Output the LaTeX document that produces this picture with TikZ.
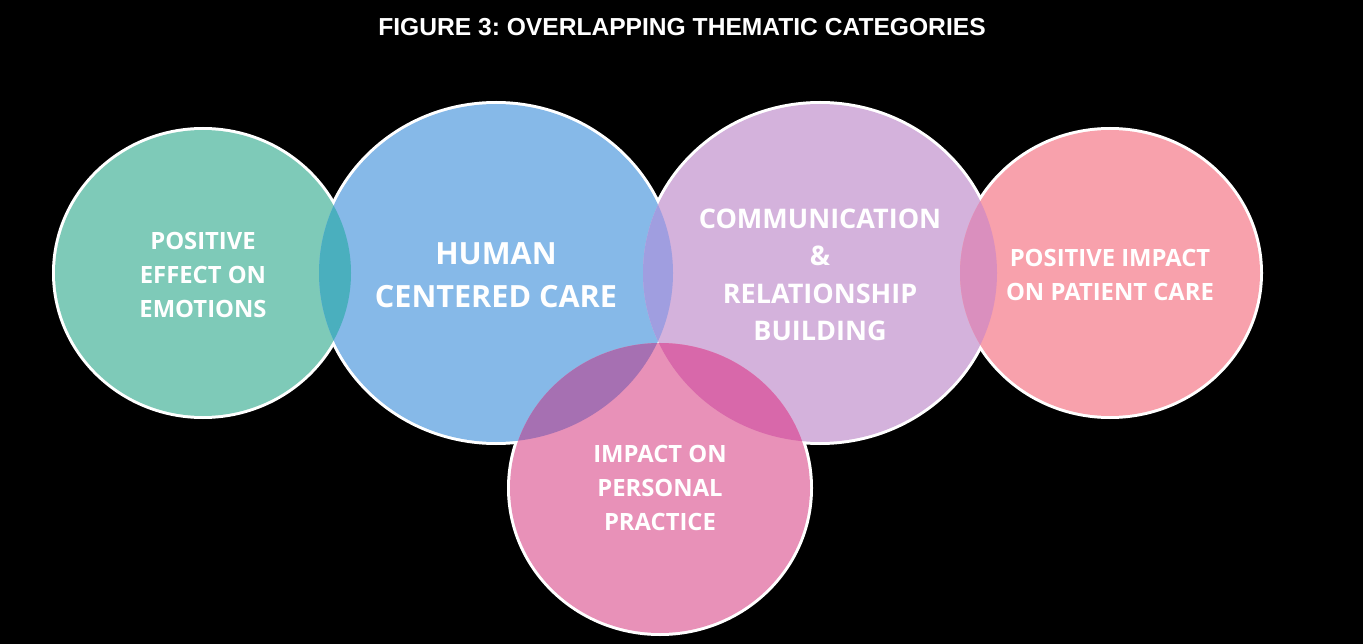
\documentclass[tikz,border=0pt]{standalone}
\usepackage{fontspec}
\setmainfont{Open Sans}
\newfontfamily\titlefont{Liberation Sans}
\frenchspacing
\definecolor{cteal}{HTML}{7ECAB8}
\definecolor{cblue}{HTML}{86B9E8}
\definecolor{clilac}{HTML}{D4B2DC}
\definecolor{cpink}{HTML}{F8A1AC}
\definecolor{cmag}{HTML}{E891B8}
\definecolor{ctb}{HTML}{4AAFBE}
\definecolor{cbl}{HTML}{A09EE0}
\definecolor{clp}{HTML}{DA8FBE}
\definecolor{cbm}{HTML}{A670B2}
\definecolor{clm}{HTML}{D868AA}
\definecolor{cblm}{HTML}{9E7EC8}
\newcommand\pteal{(203,273) ellipse [x radius=148pt, y radius=143pt]}
\newcommand\pblue{(496,273) ellipse [x radius=177pt, y radius=169pt]}
\newcommand\plilac{(820,273) ellipse [x radius=177pt, y radius=169pt]}
\newcommand\ppink{(1110,273) ellipse [x radius=150pt, y radius=143pt]}
\newcommand\pmag{(660,488) ellipse [x radius=150pt, y radius=145pt]}
\tikzset{
  outline/.style={draw=white, line width=6pt},
  lbl/.style={text=white, align=center, inner sep=0pt},
}
\begin{document}
\begin{tikzpicture}[x=1pt,y=-1pt]
\useasboundingbox (0,0) rectangle (1363,644);
\fill[black] (0,0) rectangle (1363,644);
% outlines
\draw[outline] \pteal;
\draw[outline] \pblue;
\draw[outline] \plilac;
\draw[outline] \ppink;
\draw[outline] \pmag;
% fills
\fill[cteal] \pteal;
\fill[cblue] \pblue;
\fill[clilac] \plilac;
\fill[cpink] \ppink;
\fill[cmag] \pmag;
% overlaps
\begin{scope}\clip \pteal; \fill[ctb] \pblue; \end{scope}
\begin{scope}\clip \pblue; \fill[cbl] \plilac; \end{scope}
\begin{scope}\clip \plilac; \fill[clp] \ppink; \end{scope}
\begin{scope}\clip \pblue; \fill[cbm] \pmag; \end{scope}
\begin{scope}\clip \plilac; \fill[clm] \pmag; \end{scope}
\begin{scope}\clip \pblue; \clip \plilac; \fill[cblm] \pmag; \end{scope}
% title
\node[lbl, font=\titlefont\bfseries\fontsize{24.6}{28}\selectfont] (title) at (682,27) {FIGURE 3: OVERLAPPING THEMATIC CATEGORIES};
% labels
\node[lbl, font=\bfseries\fontsize{23.8}{34}\selectfont] (emo) at (203,275) {POSITIVE\\EFFECT ON\\EMOTIONS};
\node[lbl, font=\bfseries\fontsize{30.6}{43}\selectfont] (hcc) at (496,275) {HUMAN\\CENTERED CARE};
\node[lbl, font=\bfseries\fontsize{27}{37.5}\selectfont] (crb) at (820,275) {COMMUNICATION\\\&\\RELATIONSHIP\\BUILDING};
\node[lbl, font=\bfseries\fontsize{23.8}{34}\selectfont] (pic) at (1110,275) {POSITIVE IMPACT\\ON PATIENT CARE};
\node[lbl, font=\bfseries\fontsize{23.8}{34}\selectfont] (ipp) at (660,488) {IMPACT ON\\PERSONAL\\PRACTICE};
\end{tikzpicture}
\end{document}
